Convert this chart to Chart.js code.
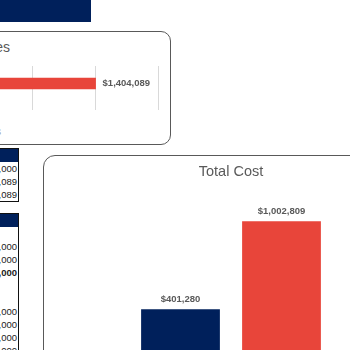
<!DOCTYPE html>
<html>
<head>
<meta charset="utf-8">
<script src="https://cdn.jsdelivr.net/npm/chart.js@4"></script>
<style>
  html, body { margin: 0; padding: 0; width: 350px; height: 350px; overflow: hidden; background: #fff; }
  body { position: relative; font-family: "Liberation Sans", Arial, sans-serif; }
  .banner { position: absolute; left: 0; top: 0; width: 91px; height: 22px; background: #00205b; }
  .card { position: absolute; border: 1.5px solid #595959; background: #fff; box-sizing: border-box; }
  .card-sales { left: -250px; top: 31px; width: 421px; height: 114px; border-radius: 10px; }
  .card-cost { left: 43px; top: 155px; width: 400px; height: 300px; border-radius: 12px; }
  .card-title { position: absolute; left: -120px; top: 39px; width: 130px; text-align: right;
    font-size: 14px; line-height: 16px; color: #595959; white-space: nowrap; }
  .legend-frag { position: absolute; left: -60px; top: 126px; width: 61px; text-align: right;
    font-size: 10px; line-height: 12px; color: #9a9a9a; }
  canvas { position: absolute; }
  table.grid { position: absolute; border-collapse: collapse; font-size: 9.5px; color: #222;
    border: 1px solid #111; }
  table.grid th { background: #00205b; height: 13px; padding: 0; }
  table.grid td { height: 13px; padding: 0 1px 0 0; text-align: right; line-height: 13px; white-space: nowrap; }
  table.grid td.b { font-weight: bold; }
</style>
</head>
<body>
<div class="banner"></div>

<div class="card card-sales"></div>
<div class="card-title">Total Sales</div>
<div class="legend-frag">Sales</div>
<canvas id="salesChart" width="192" height="44" style="left:-31px; top:66px;"></canvas>

<table class="grid" id="tblSummary" style="left:-80px; top:148px; width:99px;"></table>
<table class="grid" id="tblDetail" style="left:-80px; top:213px; width:99px; border-bottom:none;"></table>

<div class="card card-cost"></div>
<canvas id="costChart" width="202" height="213" style="left:130px; top:155px;"></canvas>

<script>
// ── Data ─────────────────────────────────────────────
const salesLabels = ['Sales'];
const salesValues = [1404089];
const salesGrid   = [0, 700000, 1400000, 2100000];
const salesMax    = 2130000;

const costLabels = ['Budget', 'Actual'];
const costValues = [401280, 1002809];
const costMax    = 1200000;

const summaryRows = ['$1,400,000', '$1,404,089', '$1,404,089'];
const detailRows  = ['', '$250,000', '$500,000', '$750,000', '', '', '$100,000', '$200,000', '$300,000', '$400,000'];
const detailBold  = [3];

const NAVY = '#00205b';
const RED  = '#e8453a';
const TEXT = '#595959';
const FONT = '"Liberation Sans", Arial, sans-serif';

const money = v => '$' + v.toLocaleString('en-US');

// ── Tables ───────────────────────────────────────────
function fillTable(id, rows, bold = []) {
  const tbl = document.getElementById(id);
  let html = '<tr><th></th></tr>';
  rows.forEach((r, i) => {
    html += '<tr><td' + (bold.includes(i) ? ' class="b"' : '') + '>' + r + '</td></tr>';
  });
  tbl.innerHTML = html;
}
fillTable('tblSummary', summaryRows);
fillTable('tblDetail', detailRows, detailBold);

// ── Value labels plugin ──────────────────────────────
const valueLabels = {
  id: 'valueLabels',
  afterDatasetsDraw(chart) {
    const { ctx } = chart;
    const horizontal = chart.options.indexAxis === 'y';
    ctx.save();
    ctx.font = 'bold 9.5px ' + FONT;
    ctx.fillStyle = TEXT;
    ctx.textBaseline = 'middle';
    chart.getDatasetMeta(0).data.forEach((bar, i) => {
      const text = money(chart.data.datasets[0].data[i]);
      if (horizontal) {
        ctx.textAlign = 'left';
        ctx.fillText(text, bar.x + 7, bar.y);
      } else {
        ctx.textAlign = 'center';
        ctx.fillText(text, bar.x, bar.y - 10);
      }
    });
    ctx.restore();
  }
};

// ── Total Sales (horizontal bar) ─────────────────────
new Chart(document.getElementById('salesChart'), {
  type: 'bar',
  data: {
    labels: salesLabels,
    datasets: [{ data: salesValues, backgroundColor: RED, barThickness: 11 }]
  },
  options: {
    indexAxis: 'y',
    responsive: false,
    animation: false,
    layout: { padding: 0 },
    plugins: { legend: { display: false }, tooltip: { enabled: false } },
    scales: {
      x: {
        min: 0, max: salesMax,
        afterBuildTicks: s => { s.ticks = salesGrid.map(v => ({ value: v })); },
        ticks: { display: false },
        grid: { color: '#d9d9d9', drawTicks: true, tickLength: 9 },
        border: { display: false }
      },
      y: { display: false }
    }
  },
  plugins: [valueLabels]
});

// ── Total Cost (column) ──────────────────────────────
new Chart(document.getElementById('costChart'), {
  type: 'bar',
  data: {
    labels: costLabels,
    datasets: [{
      data: costValues,
      backgroundColor: [NAVY, RED],
      barPercentage: 0.78,
      categoryPercentage: 1
    }]
  },
  options: {
    responsive: false,
    animation: false,
    layout: { padding: 0 },
    plugins: {
      legend: { display: false },
      tooltip: { enabled: false },
      title: {
        display: true,
        text: 'Total Cost',
        color: TEXT,
        font: { family: FONT, size: 14.5, weight: 'normal' },
        padding: { top: 8.6, bottom: 11.4 }
      }
    },
    scales: {
      x: { display: false },
      y: { display: false, min: 0, max: costMax }
    }
  },
  plugins: [valueLabels]
});
</script>
</body>
</html>
